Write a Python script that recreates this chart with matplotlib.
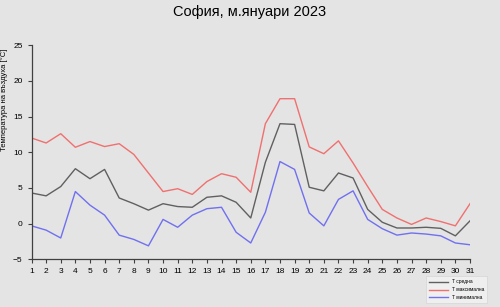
import numpy as np
import matplotlib
matplotlib.use('Agg')
import matplotlib.pyplot as plt

plt.rcParams['font.family'] = ['Liberation Sans', 'DejaVu Sans']

days = list(range(1, 32))
t_avg = [4.3, 3.9, 5.2, 7.7, 6.3, 7.6, 3.6, 2.8, 1.9, 2.8, 2.4, 2.3, 3.7, 3.9, 3.0, 0.8,
         8.6, 14.0, 13.9, 5.1, 4.6, 7.1, 6.4, 2.0, 0.2, -0.6, -0.6, -0.5, -0.65, -1.7, 0.4]
t_max = [12.0, 11.3, 12.6, 10.7, 11.5, 10.8, 11.2, 9.7, 7.1, 4.5, 4.9, 4.1, 5.9, 7.0, 6.5, 4.4,
         14.0, 17.5, 17.5, 10.75, 9.8, 11.6, 8.5, 5.2, 2.0, 0.8, -0.1, 0.8, 0.3, -0.3, 2.8]
t_min = [-0.3, -0.9, -2.0, 4.5, 2.6, 1.2, -1.6, -2.2, -3.1, 0.6, -0.5, 1.2, 2.1, 2.3, -1.2, -2.7,
         1.6, 8.7, 7.6, 1.5, -0.3, 3.4, 4.6, 0.6, -0.7, -1.6, -1.3, -1.45, -1.7, -2.7, -2.95]
labels = ['T средна', 'T максимална', 'T минимална']

bg = '#e4e4e4'
fig = plt.figure(figsize=(5, 3.07), dpi=100, facecolor=bg)
ax = fig.add_axes([0.063, 0.155, 0.877, 0.698], facecolor=bg)

ax.plot(days, t_avg, color='#606060', lw=1.0, label=labels[0])
ax.plot(days, t_max, color='#f07070', lw=1.0, label=labels[1])
ax.plot(days, t_min, color='#7070f0', lw=1.0, label=labels[2])

ax.set_xlim(1, 31)
ax.set_ylim(-5, 25)
ax.set_xticks(days)
ax.set_yticks(range(-5, 26, 5))
ax.tick_params(labelsize=6, length=3, width=0.8, colors='#404040', labelcolor='black')
for s in ['top', 'right']:
    ax.spines[s].set_visible(False)
for s in ['left', 'bottom']:
    ax.spines[s].set_color('#404040')
    ax.spines[s].set_linewidth(0.9)

ax.set_ylabel('Температура на въздуха [°C]', fontsize=5.5)
ax.yaxis.set_label_coords(-0.054, 0.744)
fig.suptitle('София, м.януари 2023', fontsize=10.5, y=0.985)

leg = ax.legend(loc='lower right', bbox_to_anchor=(1.045, -0.215), fontsize=3.5,
                frameon=True, fancybox=False, handlelength=4, borderpad=0.6,
                labelspacing=0.6)
leg.get_frame().set_facecolor('#f2f2f2')
leg.get_frame().set_edgecolor('#d0d0d0')
leg.get_frame().set_linewidth(0.5)

fig.savefig('out.png', dpi=100, facecolor=bg)
